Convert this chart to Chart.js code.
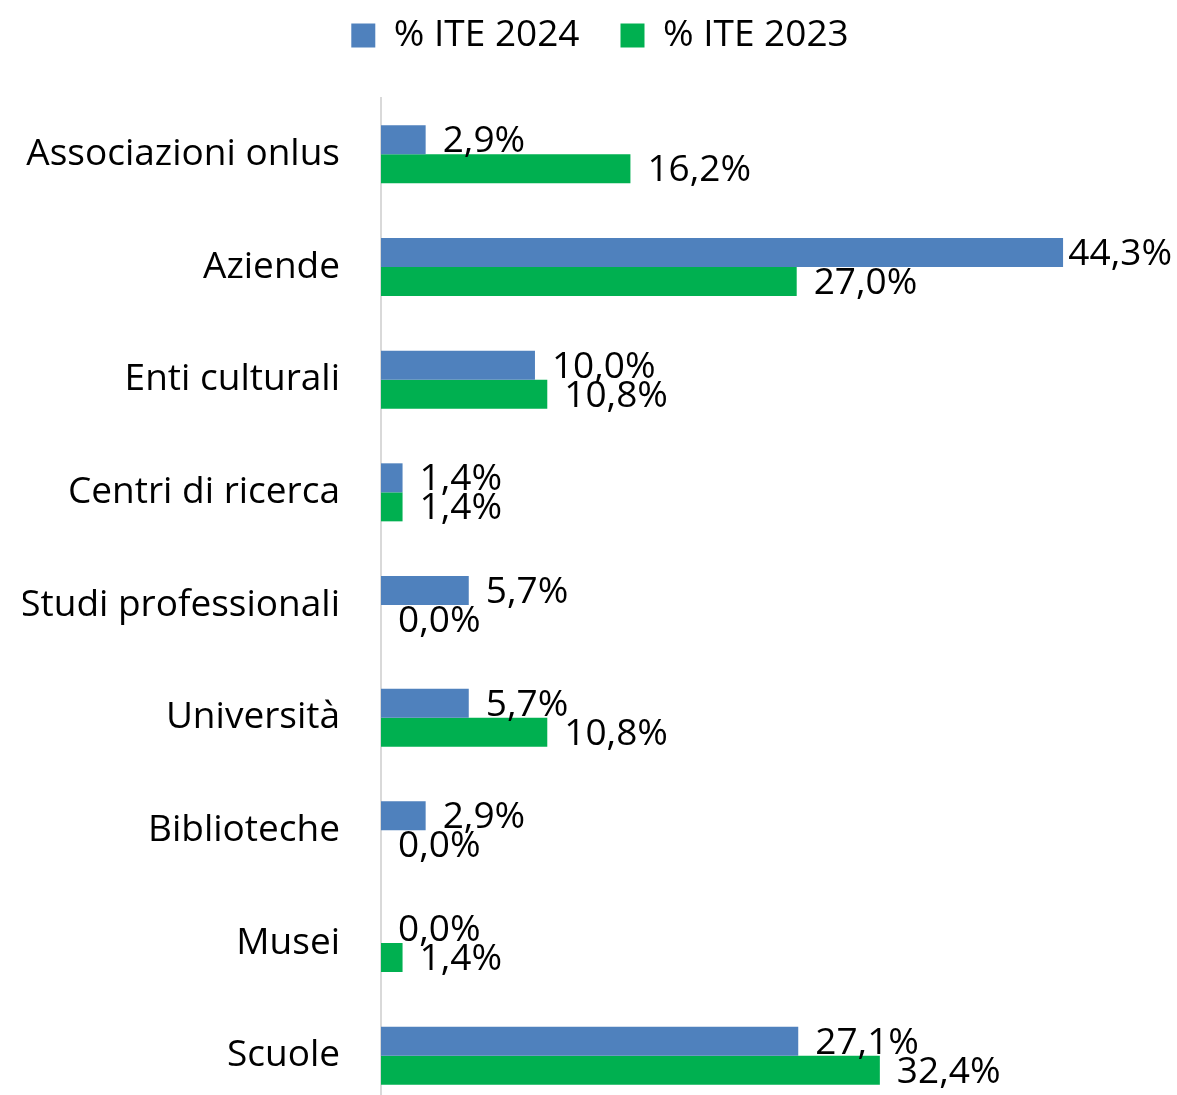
<!DOCTYPE html>
<html>
<head>
<meta charset="utf-8">
<script src="https://cdn.jsdelivr.net/npm/chart.js@4/dist/chart.umd.min.js"></script>
<style>
    html, body { margin: 0; padding: 0; background: #fff; overflow: hidden; }
    #chart { display: block; width: 1177px; height: 1112px; }
</style>
</head>
<body>
<canvas id="chart" width="1177" height="1112"></canvas>
<script>
// Chart data
const categories = ['Associazioni onlus', 'Aziende', 'Enti culturali', 'Centri di ricerca', 'Studi professionali', 'Università', 'Biblioteche', 'Musei', 'Scuole'];
const seriesNames = ['% ITE 2024', '% ITE 2023'];
const ite2024 = [2.9, 44.3, 10.0, 1.4, 5.7, 5.7, 2.9, 0.0, 27.1];
const ite2023 = [16.2, 27.0, 10.8, 1.4, 0.0, 10.8, 0.0, 1.4, 32.4];

const FONT = '"Open Sans", "Liberation Sans", sans-serif';
const FONT_SIZE = 37;
const PAD_LEFT = 23;

function formatPct(v) {
    return v.toFixed(1).replace('.', ',') + '%';
}

// Extra space under the legend
const legendSpacing = {
    id: 'legendSpacing',
    beforeInit(chart) {
        const originalFit = chart.legend.fit;
        chart.legend.fit = function fit() {
            originalFit.bind(chart.legend)();
            this.height += 34;
        };
    }
};

// Value labels at the end of each bar
const barLabels = {
    id: 'barLabels',
    afterDatasetsDraw(chart) {
        const ctx = chart.ctx;
        ctx.save();
        ctx.font = FONT_SIZE + 'px ' + FONT;
        ctx.fillStyle = '#000';
        ctx.textAlign = 'left';
        ctx.textBaseline = 'middle';
        chart.data.datasets.forEach((ds, i) => {
            const meta = chart.getDatasetMeta(i);
            meta.data.forEach((bar, j) => {
                const text = formatPct(ds.data[j]);
                const w = ctx.measureText(text).width;
                const x = Math.min(bar.x + 17, chart.width - w - 5);
                ctx.fillText(text, x, bar.y + 2);
            });
        });
        ctx.restore();
    }
};

const ctx = document.getElementById('chart').getContext('2d');
new Chart(ctx, {
    type: 'bar',
    data: {
        labels: categories,
        datasets: [
            {
                label: seriesNames[0],
                data: ite2024,
                backgroundColor: '#4F81BD',
                categoryPercentage: 0.515,
                barPercentage: 1.0
            },
            {
                label: seriesNames[1],
                data: ite2023,
                backgroundColor: '#00B050',
                categoryPercentage: 0.515,
                barPercentage: 1.0
            }
        ]
    },
    options: {
        indexAxis: 'y',
        responsive: false,
        maintainAspectRatio: false,
        animation: false,
        layout: {
            padding: { left: PAD_LEFT, right: 0, top: -24, bottom: 0 }
        },
        scales: {
            x: {
                display: false,
                min: 0,
                max: 51.7
            },
            y: {
                grid: { display: false, drawTicks: false },
                border: { display: true, color: '#D9D9D9', width: 2 },
                ticks: {
                    color: '#000',
                    padding: 41,
                    font: { family: FONT, size: FONT_SIZE }
                },
                afterFit(scale) {
                    scale.width = 381 - PAD_LEFT;
                    scale.paddingTop = 0;
                    scale.paddingBottom = 0;
                }
            }
        },
        plugins: {
            legend: {
                position: 'top',
                labels: {
                    boxWidth: 24,
                    boxHeight: 24,
                    padding: 41,
                    color: '#000',
                    font: { family: FONT, size: FONT_SIZE }
                }
            },
            tooltip: { enabled: false }
        }
    },
    plugins: [legendSpacing, barLabels]
});
</script>
</body>
</html>
